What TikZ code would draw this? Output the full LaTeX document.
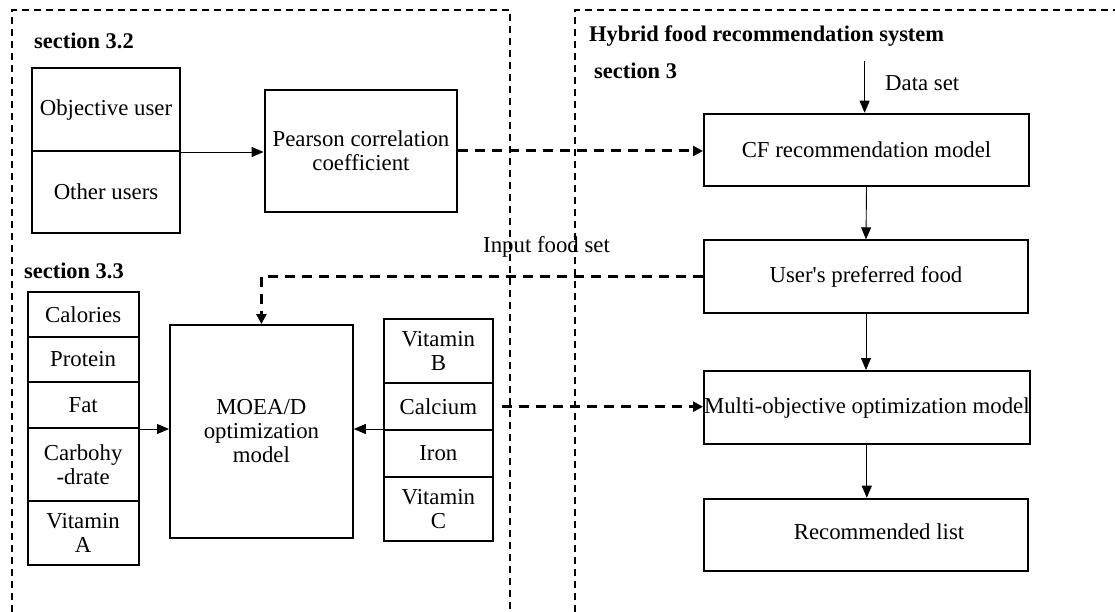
\documentclass[tikz,border=0pt]{standalone}
\usepackage{fontspec}
\setmainfont{Liberation Serif}
\usetikzlibrary{arrows.meta}
\tikzset{
 box/.style={draw, line width=2pt, align=center, inner sep=0pt, anchor=north west, font=\fontsize{22.8}{24}\selectfont},
 thinarr/.style={line width=0.9pt, -{Triangle[length=12pt,width=10pt]}},
 dasharr/.style={line width=3pt, dash pattern=on 10pt off 7pt, -{Triangle[length=10pt,width=10pt]}},
 frame/.style={line width=1.5pt, dash pattern=on 7pt off 5pt},
 lbl/.style={font=\fontsize{22.8}{24}\selectfont, inner sep=0pt},
 sec/.style={font=\bfseries\fontsize{22.4}{24}\selectfont, inner sep=0pt},
}
\begin{document}
\begin{tikzpicture}[x=1pt,y=-1pt]
\useasboundingbox (0,0) rectangle (1115,612);
% frames
\draw[frame] (12,612) -- (12,10) -- (510,10) -- (510,612);
\draw[frame] (575,612) -- (575,10) -- (1115,10);
% section labels
\node[sec, anchor=west] (s32) at (34,41) {section 3.2};
\node[sec, anchor=west] (s33) at (24,270.7) {section 3.3};
\node[sec, anchor=west] (hyb) at (589,36) {Hybrid food recommendation system};
\node[sec, anchor=west] (s3) at (594,70.7) {section 3};
% users
\node[box, minimum width=147.2pt, minimum height=82.7pt] (obj) at (31.4,67.3) {Objective user};
\node[box, minimum width=147.2pt, minimum height=82.3pt] (oth) at (31.4,150) {Other users};
\node[box, minimum width=192.8pt, minimum height=121.4pt] (pear) at (263.6,89.3) {Pearson correlation\\coefficient};
% right column
\node[box, minimum width=325pt, minimum height=72.3pt] (cf) at (703,112.7) {CF recommendation model};
\node[box, minimum width=324pt, minimum height=72.4pt] (usr) at (703,239.3) {User\textquotesingle s preferred food};
\node[box, minimum width=325.6pt, minimum height=73.3pt] (multi) at (703,370) {Multi-objective optimization model};
\node[box, minimum width=324pt, minimum height=72.3pt] (rec) at (703,497.7) {};
\node[lbl] (rect) at (879,531.7) {Recommended list};
% left list
\node[box, minimum width=110.7pt, minimum height=44.7pt] (cal) at (26.8,291) {Calories};
\node[box, minimum width=110.7pt, minimum height=45.6pt] (pro) at (26.8,335.7) {Protein};
\node[box, minimum width=110.7pt, minimum height=45.7pt] (fat) at (26.8,381.3) {Fat};
\node[box, minimum width=110.7pt, minimum height=73pt] (carb) at (26.8,427) {Carbohy\\-drate};
\node[box, minimum width=110.7pt, minimum height=64.3pt] (vita) at (26.8,500) {Vitamin\\A};
% MOEA
\node[box, minimum width=182.8pt, minimum height=212.7pt] (moea) at (169,324) {MOEA/D\\optimization\\model};
% right list
\node[box, minimum width=108.9pt, minimum height=63.4pt] (vb) at (382.9,318.3) {Vitamin\\B};
\node[box, minimum width=108.9pt, minimum height=47pt] (calc) at (382.9,381.7) {Calcium};
\node[box, minimum width=108.9pt, minimum height=47pt] (iron) at (382.9,428.7) {Iron};
\node[box, minimum width=108.9pt, minimum height=64.3pt] (vc) at (382.9,475.7) {Vitamin\\C};
% labels
\node[lbl, anchor=west] (dsl) at (885,83.3) {Data set};
\node[lbl, anchor=west] (ifs) at (483,246.7) {Input food set};
\coordinate (ds) at (864.6,61);
\coordinate (cs) at (501.8,406.7);
% connectors
\draw[thinarr] (obj.south east) -- (obj.south east -| pear.west);
\draw[dasharr] (pear.east) -- (pear.east -| cf.west);
\draw[thinarr] (ds) -- (ds |- cf.north);
\draw[thinarr] (cf.south) -- (usr.north);
\draw[dasharr] (usr.west) -| (moea.north);
\draw[thinarr] (fat.south east) -- (fat.south east -| moea.west);
\draw[thinarr] (fat.south east -| calc.west) -- (fat.south east -| moea.east);
\draw[dasharr] (cs) -- (cs -| multi.west);
\draw[thinarr] (usr.south) -- (usr.south |- multi.north);
\draw[thinarr] (multi.south) -- (multi.south |- rec.north);
\end{tikzpicture}
\end{document}
